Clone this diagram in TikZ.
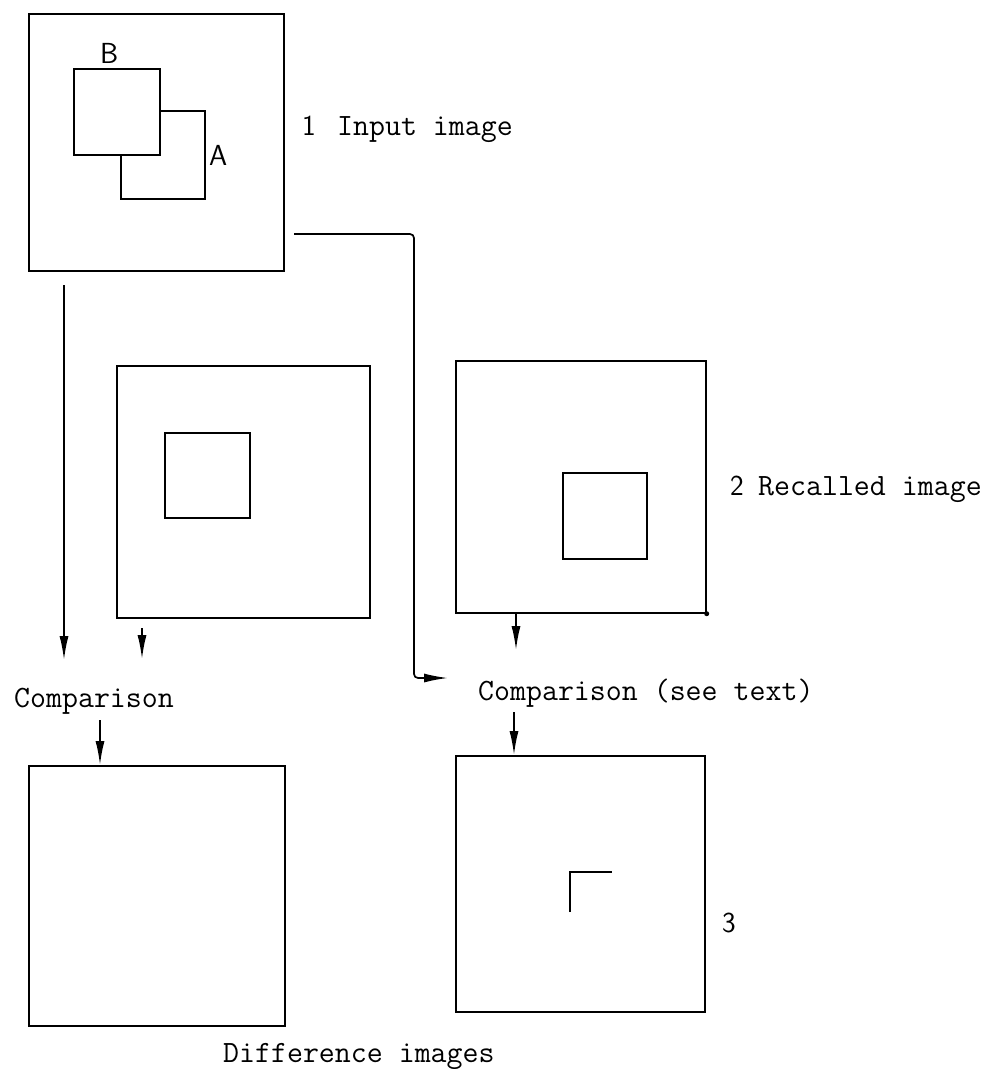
\documentclass[tikz,border=0pt]{standalone}
\usetikzlibrary{arrows.meta}
\begin{document}
\begin{tikzpicture}[x=1pt,y=-1pt,
  frame/.style={draw, line width=1.7pt, inner sep=0pt, anchor=north west},
  lbl/.style={font=\fontsize{31}{36}\selectfont\ttfamily, inner sep=0pt, anchor=base west},
  tag/.style={font=\fontsize{29}{34}\selectfont\sffamily, inner sep=0pt, anchor=base west},
  arr/.style={line width=1.7pt, -{Latex[length=24pt,width=9pt]}},
  wire/.style={line width=1.7pt}]
\useasboundingbox (0,0) rectangle (985,1069);

% input image
\node[frame, minimum width=255pt, minimum height=257pt] (in1) at (28,13) {};
\node[frame, minimum width=84pt, minimum height=88pt] (sqA) at (120,110) {};
\node[frame, fill=white, minimum width=86pt, minimum height=86pt] (sqB) at (73,68) {};
\node[tag] (lB) at (100,63) {B};
\node[tag] (lA) at (209,165) {A};
\node[tag] (n1) at (302,135) {1};
\node[lbl] (t1) at (337,135) {Input image};

% recalled images
\node[frame, minimum width=253pt, minimum height=252pt] (rec1) at (116,365) {};
\node[frame, minimum width=85pt, minimum height=85pt] (sq1) at (164,432) {};
\node[frame, minimum width=250pt, minimum height=252pt] (rec2) at (455,360) {};
\node[frame, minimum width=84pt, minimum height=86pt] (sq2) at (562,472) {};
\fill (rec2.south east) circle (2.5pt);
\node[tag] (n2) at (730,495) {2};
\node[lbl] (t2) at (758,495) {Recalled image};

% comparison labels
\node[lbl] (cmpL) at (14,707) {Comparison};
\node[lbl] (cmpR) at (478,700) {Comparison (see text)};

% difference images
\node[frame, minimum width=256pt, minimum height=260pt] (dif1) at (28,765) {};
\node[frame, minimum width=249pt, minimum height=256pt] (dif2) at (455,755) {};
\draw[wire] (570,912) -- (570,872) -- (612,872);
\node[tag] (n3) at (722,932) {3};
\node[lbl] (diff) at (223,1062) {Difference images};

% connector end points
\coordinate (a1s) at (64,285);
\coordinate (a1e) at (64,660);
\coordinate (a2s) at (142,628);
\coordinate (a2e) at (142,659);
\coordinate (a3s) at (100,720);
\coordinate (a4s) at (516,612);
\coordinate (a4e) at (516,650);
\coordinate (a5s) at (514,712);
\coordinate (rs) at (294,234);
\coordinate (rc) at (414,234);
\coordinate (re) at (448,678);

\draw[arr] (a1s) -- (a1e);
\draw[arr] (a2s) -- (a2e);
\draw[arr] (a3s) -- (a3s |- dif1.north);
\draw[arr] (a4s) -- (a4e);
\draw[arr] (a5s) -- (a5s |- dif2.north);
\draw[arr, rounded corners=4pt] (rs) -- (rc) -- (rc |- re) -- (re);
\end{tikzpicture}
\end{document}
